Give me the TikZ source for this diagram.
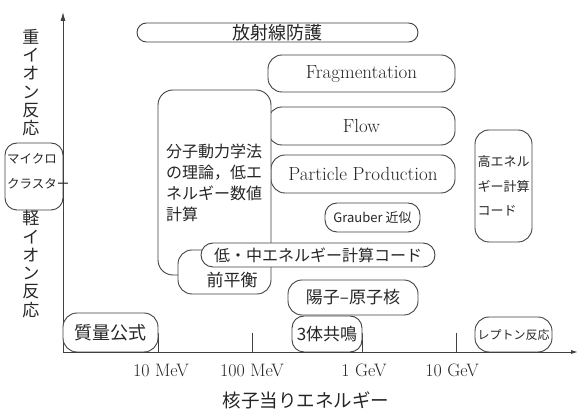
\documentclass[tikz,border=0pt]{standalone}
\usepackage{fontspec}
\newfontfamily\jp{Noto Sans CJK JP}
\usetikzlibrary{arrows.meta}
\begin{document}
\begin{tikzpicture}[x=1pt,y=-1pt,
  ln/.style={draw=black!75, line width=0.9pt},
  rbox/.style={ln, fill=white, inner sep=0pt, rounded corners=#1, text=black!85},
  rbox/.default=13pt,
  lat/.style={font=\fontsize{19}{19}\selectfont, text=black!85},
  tick/.style={font=\fontsize{18}{18}\selectfont, text=black!85},
  jpm/.style={font=\jp\fontsize{16}{16}\selectfont, text=black!85},
  jpb/.style={font=\jp\fontsize{17}{17}\selectfont, text=black!85},
  jps/.style={font=\jp\fontsize{13}{13}\selectfont, text=black!85},
  jpv/.style={font=\jp\fontsize{17}{18.3}\selectfont, text=black!85, align=center, inner sep=0pt}
]
\useasboundingbox (0,0) rectangle (579,411);

% micro cluster box (under the axis)
\node[rbox=12pt, minimum width=58pt, minimum height=67pt] (micro) at (34,176.5) {};

% axes
\coordinate (O) at (63,352);
\coordinate (ytop) at (63,12);
\coordinate (xend) at (578,352);
\draw[ln,-{Latex[length=9pt,width=5pt]}] (O) -- (ytop);
\draw[ln,-{Latex[length=7pt,width=4pt]}] (O) -- (xend);

\node[jps, anchor=west, align=left, inner sep=0pt, font=\jp\fontsize{12.5}{25}\selectfont] (microT) at (7,171) {マイクロ\\クラスター};

% ticks
\coordinate (t1) at (158,352);
\coordinate (t2) at (252,352);
\coordinate (t3) at (362,352);
\coordinate (t4) at (456,352);
\foreach \t in {t1,t2,t3,t4} \draw[ln] (\t) -- ++(0,-19);

\node[tick] (l1) at (161,370) {10 MeV};
\node[tick] (l2) at (252,370) {100 MeV};
\node[tick] (l3) at (364,370) {1 GeV};
\node[tick] (l4) at (452,370) {10 GeV};
\node[jpb, font=\jp\fontsize{18.5}{18.5}\selectfont] (xlab) at (306,400) {核子当りエネルギー};

% vertical labels
\node[jpv] (heavy) at (31,82.5) {重\\イ\\オ\\ン\\反\\応};
\node[jpv] (light) at (31,264) {軽\\イ\\オ\\ン\\反\\応};

% boxes
\node[rbox=9.5pt, minimum width=281pt, minimum height=19pt, font=\jp\fontsize{18}{18}\selectfont] (rad) at (277.5,32.5) {放射線防護};

\node[rbox=14pt, minimum width=187pt, minimum height=37pt, lat] (frag) at (361.5,73.5) {Fragmentation};
\node[rbox=14pt, minimum width=187pt, minimum height=38pt, lat] (flow) at (361.5,126) {Flow};
\node[rbox=14pt, minimum width=184pt, minimum height=38pt, lat] (pp) at (363,174) {Particle Production};

\node[rbox=15pt, minimum width=113pt, minimum height=185pt] (mol) at (214.5,182.5) {};
\node[jpm, anchor=north west, align=left, inner sep=0pt, font=\jp\fontsize{16}{21}\selectfont] (molT) at (166,144) {分子動力学法\\の理論，低エ\\ネルギー数値\\計算};

\node[rbox=14pt, minimum width=93pt, minimum height=44pt] (pre) at (224.5,272) {};
\node[jpb] (preT) at (232,280) {前平衡};

\node[rbox=12pt, minimum width=234pt, minimum height=24pt, jpm] (low) at (318,255) {低・中エネルギー計算コード};

\node[rbox=12pt, minimum width=95pt, minimum height=29pt, jps] (grau) at (372.5,217.5) {Grauber 近似};

\node[rbox=14pt, minimum width=57pt, minimum height=112pt, align=left, font=\jp\fontsize{13}{24.5}\selectfont] (hi) at (503.5,186) {高エネル\\ギー計算\\コード};

\node[rbox=14pt, minimum width=130pt, minimum height=35pt, jpb] (yoshi) at (353,297.5) {陽子–原子核};
\node[rbox=12pt, minimum width=70pt, minimum height=36pt, jpb] (res) at (327,334) {3体共鳴};

\node[rbox=14pt, minimum width=95pt, minimum height=39pt, jpb, font=\jp\fontsize{18}{18}\selectfont] (mass) at (110.5,332.5) {質量公式};
\node[rbox=14pt, minimum width=77pt, minimum height=35pt, font=\jp\fontsize{12}{12}\selectfont] (lep) at (513.5,334.5) {レプトン反応};
\end{tikzpicture}
\end{document}
